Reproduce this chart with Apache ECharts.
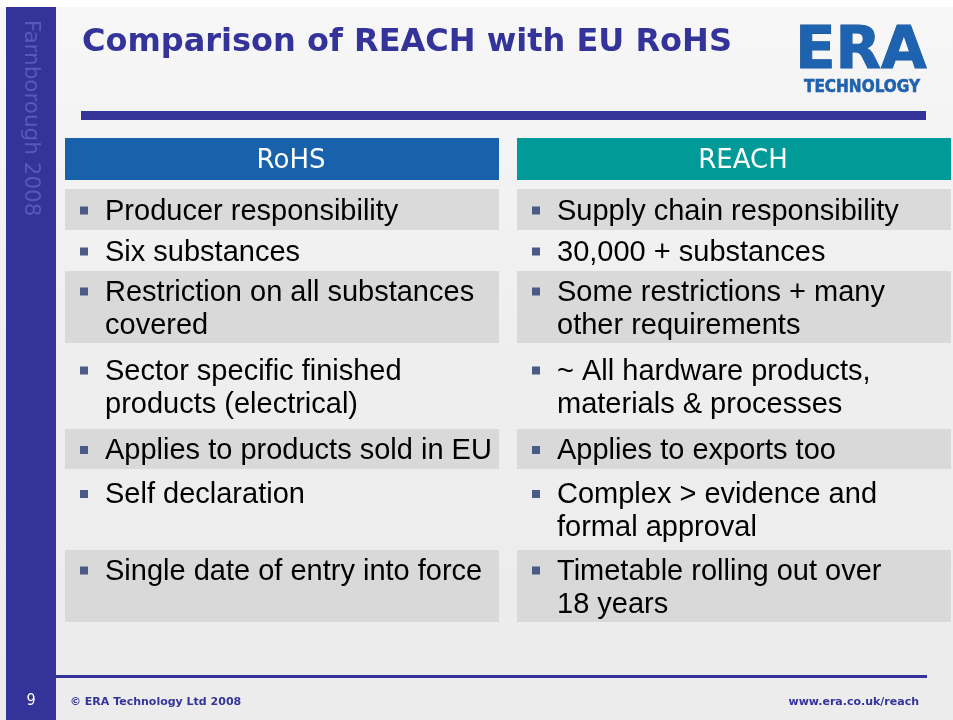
<!DOCTYPE html>
<html>
<head>
<meta charset="utf-8">
<script src="https://cdn.jsdelivr.net/npm/echarts@6/dist/echarts.min.js"></script>
<style>
  html, body { margin: 0; padding: 0; }
  #slide { width: 953px; height: 720px; }
</style>
</head>
<body>
<div id="slide"></div>
<script>
// slide texts
var titleText = 'Comparison of REACH with EU RoHS';
var sideText = 'Farnborough 2008';
var pageNo = '9';
var footerLeft = '\u00a9 ERA Technology Ltd 2008';
var footerRight = 'www.era.co.uk/reach';

// table content: column headers, then one entry per row for each column
var columns = ['RoHS', 'REACH'];
var rohsItems = [
    'Producer responsibility',
    'Six substances',
    'Restriction on all substances\ncovered',
    'Sector specific finished\nproducts (electrical)',
    'Applies to products sold in EU',
    'Self declaration',
    'Single date of entry into force'
];
var reachItems = [
    'Supply chain responsibility',
    '30,000 + substances',
    'Some restrictions + many\nother requirements',
    '~ All hardware products,\nmaterials & processes',
    'Applies to exports too',
    'Complex > evidence and\nformal approval',
    'Timetable rolling out over\n18 years'
];

// layout of the table (vertical units of the y axis = px)
var headerHeight = 42;
var headerGap = 9;
var rowHeights = [41, 41, 72, 86, 40, 81, 72];
var lineH = 33;

var rowStart = [];
var acc = headerHeight + headerGap;
for (var i = 0; i < rowHeights.length; i++) {
    rowStart.push(acc);
    acc += rowHeights[i];
}
var tableTotal = acc;

var colItems = [rohsItems, reachItems];
var cellData = [];
for (var c = 0; c < columns.length; c++) {
    for (var r = 0; r < rohsItems.length; r++) {
        cellData.push([c, r]);
    }
}
var headerColors = ['#1762ab', '#009a98'];

function cellRect(api, col, y0, y1) {
    var p0 = api.coord([col, y0]);
    var p1 = api.coord([col, y1]);
    var band = api.size([1, 0])[0];
    var left = p0[0] - band / 2 + (col === 0 ? 0 : 8);
    return { x: left, y: p0[1], width: band - 10, height: p1[1] - p0[1] };
}

var chartDom = document.getElementById('slide');
var myChart = echarts.init(chartDom, null, { renderer: 'canvas' });
var option;

option = {
    backgroundColor: {
        type: 'linear', x: 0, y: 0, x2: 0, y2: 1,
        colorStops: [
            { offset: 0, color: '#f7f7f7' },
            { offset: 0.5, color: '#eeeeee' },
            { offset: 1, color: '#ececec' }
        ]
    },
    animation: false,
    grid: { left: 65, right: 0, top: 138, height: tableTotal },
    xAxis: { type: 'category', data: columns, show: false },
    yAxis: { type: 'value', min: 0, max: tableTotal, inverse: true, show: false },
    graphic: [
        { type: 'rect', shape: { x: 0, y: 0, width: 953, height: 7 }, style: { fill: '#ffffff' } },
        { type: 'rect', shape: { x: 6, y: 7, width: 50, height: 713 }, style: { fill: '#333399' } },
        {
            type: 'text', x: 42, y: 20, rotation: -Math.PI / 2,
            style: { text: sideText, fill: '#5858b8', font: '21.5px "DejaVu Sans"', textVerticalAlign: 'top' }
        },
        {
            type: 'text', x: 82, y: 43,
            style: { text: titleText, fill: '#333399', font: 'bold 32px "DejaVu Sans"', textVerticalAlign: 'middle' }
        },
        { type: 'rect', shape: { x: 81, y: 111, width: 845, height: 9 }, style: { fill: '#333399' } },
        {
            type: 'text', x: 861, y: 53,
            style: { text: 'ERA', fill: '#1e63b0', stroke: '#174f94', lineWidth: 1, font: 'bold 59px "DejaVu Sans"', textAlign: 'center', textVerticalAlign: 'middle' }
        },
        {
            type: 'text', x: 862, y: 88,
            style: { text: 'TECHNOLOGY', fill: '#1e63b0', stroke: '#174f94', lineWidth: 0.5, font: 'bold 17px "DejaVu Sans Condensed", "DejaVu Sans"', textAlign: 'center', textVerticalAlign: 'middle' }
        },
        { type: 'rect', shape: { x: 56, y: 675, width: 871, height: 3 }, style: { fill: '#333399' } },
        {
            type: 'text', x: 31, y: 701,
            style: { text: pageNo, fill: '#ffffff', font: '16px "DejaVu Sans Condensed", "DejaVu Sans"', textAlign: 'center', textVerticalAlign: 'middle' }
        },
        {
            type: 'text', x: 70, y: 702,
            style: { text: footerLeft, fill: '#333399', font: 'bold 11px "DejaVu Sans"', textVerticalAlign: 'middle' }
        },
        {
            type: 'text', x: 919, y: 702,
            style: { text: footerRight, fill: '#333399', font: 'bold 11px "DejaVu Sans"', textAlign: 'right', textVerticalAlign: 'middle' }
        }
    ],
    series: [
        {
            name: 'header',
            type: 'custom',
            data: columns.map(function (name, i) { return [i]; }),
            renderItem: function (params, api) {
                var col = api.value(0);
                var rc = cellRect(api, col, 0, headerHeight);
                return {
                    type: 'group',
                    children: [
                        { type: 'rect', shape: rc, style: { fill: headerColors[col] } },
                        {
                            type: 'text', x: rc.x + rc.width / 2 + 9, y: rc.y + rc.height / 2 + 2,
                            style: { text: columns[col], fill: '#ffffff', font: '26px "DejaVu Sans"', textAlign: 'center', textVerticalAlign: 'middle' }
                        }
                    ]
                };
            }
        },
        {
            name: 'cells',
            type: 'custom',
            data: cellData,
            renderItem: function (params, api) {
                var col = api.value(0);
                var row = api.value(1);
                var rc = cellRect(api, col, rowStart[row], rowStart[row] + rowHeights[row]);
                var txt = colItems[col][row];
                var maxLines = Math.max(rohsItems[row].split('\n').length, reachItems[row].split('\n').length);
                var top = rc.y + rc.height / 2 - maxLines * lineH / 2 + 2;
                var children = [];
                if (row % 2 === 0) {
                    children.push({ type: 'rect', shape: rc, style: { fill: 'rgba(210,210,210,0.75)' } });
                }
                children.push({
                    type: 'rect',
                    shape: { x: rc.x + 15, y: top + lineH / 2 - 5, width: 8, height: 8 },
                    style: { fill: '#4b5b85' }
                });
                children.push({
                    type: 'text', x: rc.x + 40, y: top,
                    style: { text: txt, fill: '#000000', font: '29px "Liberation Sans", Arial', lineHeight: lineH, textVerticalAlign: 'top' }
                });
                return { type: 'group', children: children };
            }
        }
    ]
};

option && myChart.setOption(option);
</script>
</body>
</html>
